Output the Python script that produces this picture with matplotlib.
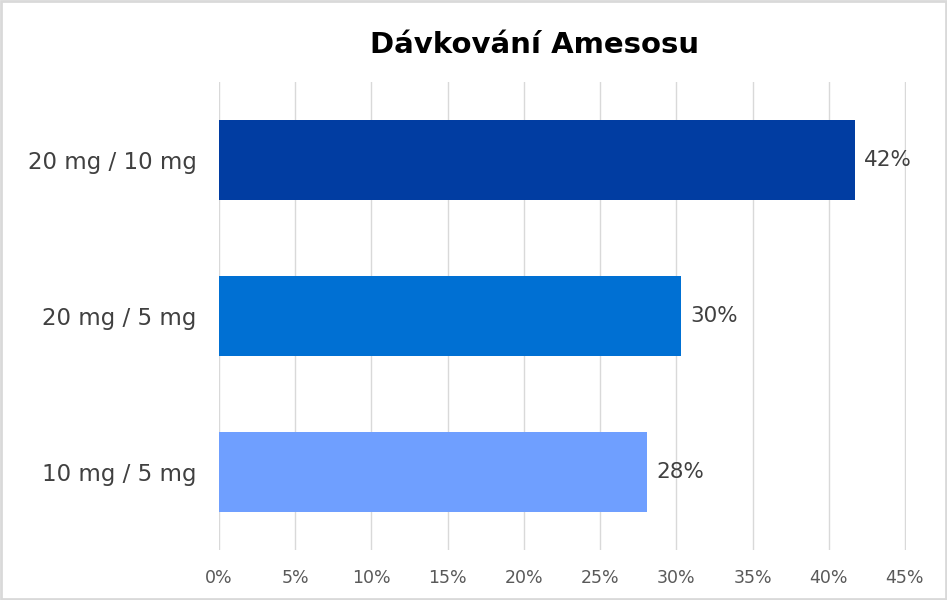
import matplotlib
matplotlib.use("Agg")
from matplotlib import pyplot as plt
from matplotlib.patches import Rectangle
from matplotlib.ticker import PercentFormatter

# data
categories = ["10 mg / 5 mg", "20 mg / 5 mg", "20 mg / 10 mg"]
values = [0.281, 0.303, 0.417]
labels = ["28%", "30%", "42%"]
colors = ["#6F9FFF", "#0070D3", "#013DA2"]
ticks = [0, 0.05, 0.10, 0.15, 0.20, 0.25, 0.30, 0.35, 0.40, 0.45]

plt.rcParams["font.family"] = ["DejaVu Sans"]

fig = plt.figure(figsize=(9.47, 6.0), dpi=100)
ax = fig.add_axes([219 / 947, 1 - 550 / 600, (906 - 219) / 947, (550 - 82) / 600])

ax.barh(range(len(categories)), values, height=0.51, color=colors, zorder=3)
for i, (v, t) in enumerate(zip(values, labels)):
    ax.text(v + 0.006, i, t, va="center", ha="left", fontsize=15.5, color="#404040")

ax.set_xlim(0, 0.4507)
ax.set_ylim(-0.5, 2.5)
ax.set_xticks(ticks)
ax.xaxis.set_major_formatter(PercentFormatter(1.0, decimals=0))
ax.set_yticks(range(len(categories)))
ax.set_yticklabels(categories)
ax.grid(axis="x", color="#D9D9D9", linewidth=1, zorder=0)
for s in ax.spines.values():
    s.set_visible(False)
ax.tick_params(axis="x", length=0, pad=14, labelsize=12.5, labelcolor="#595959")
ax.tick_params(axis="y", length=0, pad=16, labelsize=16.5, labelcolor="#404040")

fig.text(535 / 947, 1 - 45 / 600, "Dávkování Amesosu", ha="center", va="center",
         fontsize=21, fontweight="bold", color="black")

# light gray frame round the chart
fig.patches.append(Rectangle((0.001, 0.0017), 0.998, 0.9966, transform=fig.transFigure,
                             fill=False, edgecolor="#D9D9D9", linewidth=2))

fig.savefig("out.png", dpi=100)
